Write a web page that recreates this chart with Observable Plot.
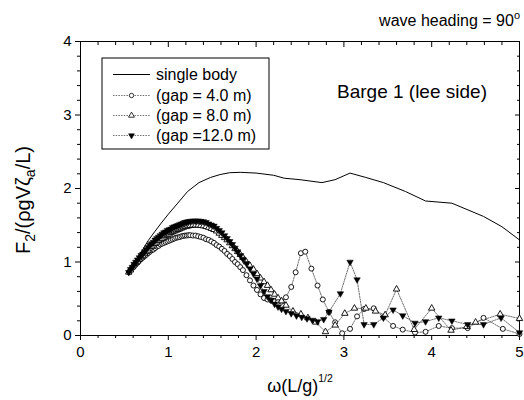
<!DOCTYPE html>
<html><head><meta charset="utf-8">
<script src="https://cdn.jsdelivr.net/npm/d3@7"></script>
<script src="https://cdn.jsdelivr.net/npm/@observablehq/plot@0.6"></script>
<style>body{margin:0;background:#fff} svg{display:block}</style>
</head><body><div id="chart"></div>
<script>
// ---- data ----
const singleOmega = [0.55,0.62,0.70,0.77,0.85,0.92,1.00,1.10,1.22,1.35,1.48,1.59,1.70,1.82,2.00,2.20,2.32,2.50,2.75,2.90,3.07,3.25,3.45,3.70,3.93,4.23,4.59,4.80,5.00];
const singleF     = [0.88,1.01,1.15,1.29,1.42,1.53,1.65,1.79,1.96,2.08,2.15,2.19,2.215,2.22,2.21,2.18,2.14,2.12,2.08,2.12,2.21,2.15,2.08,1.96,1.83,1.80,1.62,1.48,1.30];

const omegaDense = [0.55,0.57,0.59,0.61,0.63,0.65,0.67,0.69,0.71,0.73,0.75,0.77,0.79,0.81,0.83,0.85,0.87,0.89,0.91,0.93,0.95,0.97,0.99,1.01,1.03,1.05,1.07,1.09,1.11,1.13,1.15,1.17,1.19,1.21,1.23,1.25,1.28,1.31,1.34,1.37,1.40,1.43,1.46,1.49,1.52,1.55,1.58,1.61,1.64,1.67,1.70,1.73,1.76,1.79,1.82,1.85,1.89,1.93,1.97,2.01,2.05,2.09,2.13,2.17,2.21,2.25,2.29];

const gap4Dense = [0.86,0.89,0.92,0.94,0.97,0.99,1.02,1.04,1.06,1.08,1.10,1.12,1.14,1.16,1.17,1.19,1.21,1.22,1.24,1.25,1.26,1.27,1.28,1.29,1.30,1.31,1.32,1.33,1.335,1.34,1.35,1.355,1.36,1.36,1.365,1.365,1.36,1.36,1.35,1.34,1.33,1.31,1.30,1.28,1.26,1.23,1.21,1.18,1.15,1.11,1.08,1.04,1.00,0.97,0.93,0.89,0.82,0.75,0.68,0.62,0.56,0.51,0.49,0.48,0.47,0.46,0.46];
const gap8Dense = [0.86,0.89,0.93,0.96,0.99,1.01,1.04,1.07,1.09,1.12,1.14,1.16,1.19,1.21,1.23,1.25,1.27,1.29,1.31,1.32,1.34,1.36,1.37,1.38,1.40,1.41,1.42,1.43,1.44,1.45,1.46,1.47,1.48,1.485,1.49,1.495,1.50,1.50,1.50,1.495,1.49,1.48,1.47,1.455,1.44,1.42,1.39,1.36,1.33,1.30,1.26,1.22,1.18,1.14,1.10,1.06,1.00,0.95,0.90,0.84,0.78,0.73,0.68,0.62,0.56,0.51,0.47];
const gap12Dense = [0.86,0.90,0.93,0.97,1.00,1.03,1.06,1.09,1.11,1.14,1.17,1.20,1.23,1.25,1.27,1.30,1.32,1.34,1.36,1.38,1.40,1.41,1.43,1.44,1.45,1.47,1.48,1.49,1.50,1.51,1.52,1.53,1.54,1.545,1.55,1.555,1.56,1.56,1.56,1.555,1.55,1.54,1.52,1.505,1.49,1.46,1.43,1.40,1.36,1.32,1.28,1.24,1.19,1.14,1.09,1.04,0.98,0.91,0.84,0.77,0.68,0.60,0.53,0.48,0.43,0.39,0.36];

const gap4TailOmega = [2.34,2.40,2.45,2.51,2.56,2.63,2.70,2.76,2.83,2.90,2.98,3.07,3.15,3.23,3.34,3.45,3.56,3.67,3.81,3.93,4.08,4.23,4.41,4.59,4.81,5.00];
const gap4TailF     = [0.52,0.66,0.86,1.12,1.14,0.91,0.68,0.49,0.32,0.18,0.03,0.09,0.26,0.36,0.37,0.25,0.13,0.08,0.04,0.05,0.13,0.10,0.10,0.24,0.09,0.02];
const gap8TailOmega = [2.34,2.42,2.51,2.59,2.68,2.79,2.90,3.01,3.12,3.25,3.36,3.47,3.60,3.80,4.00,4.22,4.40,4.50,4.78,5.00];
const gap8TailF     = [0.41,0.33,0.29,0.24,0.18,0.05,0.14,0.30,0.37,0.37,0.33,0.28,0.63,0.08,0.37,0.07,0.12,0.18,0.29,0.23];
const gap12TailOmega = [2.34,2.40,2.46,2.52,2.58,2.64,2.70,2.77,2.83,2.96,3.07,3.15,3.23,3.34,3.45,3.56,3.67,3.81,3.93,4.08,4.23,4.41,4.59,4.79,5.00];
const gap12TailF     = [0.33,0.30,0.27,0.25,0.23,0.21,0.19,0.22,0.32,0.57,1.00,0.76,0.15,0.15,0.24,0.35,0.27,0.17,0.19,0.24,0.20,0.15,0.15,0.24,0.04];

const xMajor = [0,1,2,3,4,5];
const xMinor = [0.2,0.4,0.6,0.8,1.2,1.4,1.6,1.8,2.2,2.4,2.6,2.8,3.2,3.4,3.6,3.8,4.2,4.4,4.6,4.8];
const yMajor = [0,1,2,3,4];
const yMinor = [0.2,0.4,0.6,0.8,1.2,1.4,1.6,1.8,2.2,2.4,2.6,2.8,3.2,3.4,3.6,3.8];
const seriesLabels = ["single body","(gap = 4.0 m)","(gap = 8.0 m)","(gap =12.0 m)"];

// ---- tables ----
const rows = (xs, ys) => xs.map((x, i) => ({x, y: ys[i]}));
const single = rows(singleOmega, singleF);
const gap4 = rows(omegaDense.concat(gap4TailOmega), gap4Dense.concat(gap4TailF));
const gap8 = rows(omegaDense.concat(gap8TailOmega), gap8Dense.concat(gap8TailF));
const gap12 = rows(omegaDense.concat(gap12TailOmega), gap12Dense.concat(gap12TailF));

const dash = {stroke: "#333", strokeWidth: 0.7, strokeDasharray: "1.5,1.2"};
const fmt = d => String(d);

const chart = Plot.plot({
  width: 524, height: 400,
  marginLeft: 80, marginRight: 5, marginTop: 41, marginBottom: 65,
  x: {domain: [0, 5]},
  y: {domain: [0, 4]},
  style: {fontFamily: "'Liberation Sans', Arial, sans-serif", fontSize: "15px", color: "#000", background: "#fff"},
  marks: [
    Plot.axisX({ticks: xMinor, tickSize: 3, fill: "none", label: null}),
    Plot.axisX({ticks: xMajor, tickSize: 5, tickPadding: 6, tickFormat: fmt, fontSize: 15, label: null}),
    Plot.axisX({anchor: "top", ticks: xMinor, tickSize: 3, dy: 3, fill: "none", label: null}),
    Plot.axisX({anchor: "top", ticks: xMajor, tickSize: 5, dy: 5, fill: "none", label: null}),
    Plot.axisY({ticks: yMinor, tickSize: 3, fill: "none", label: null}),
    Plot.axisY({ticks: yMajor, tickSize: 5, tickPadding: 4, tickFormat: fmt, fontSize: 15, label: null}),
    Plot.axisY({anchor: "right", ticks: yMinor, tickSize: 3, dx: -3, fill: "none", label: null}),
    Plot.axisY({anchor: "right", ticks: yMajor, tickSize: 5, dx: -5, fill: "none", label: null}),
    Plot.frame({stroke: "#000"}),
    Plot.line(single, {x: "x", y: "y", stroke: "#000", strokeWidth: 1}),
    Plot.line(gap4, {x: "x", y: "y", ...dash}),
    Plot.line(gap8, {x: "x", y: "y", ...dash}),
    Plot.line(gap12, {x: "x", y: "y", ...dash}),
    Plot.dot(gap4, {x: "x", y: "y", r: 2.5, fill: "#fff", stroke: "#000", strokeWidth: 0.9}),
    Plot.dot(gap8, {x: "x", y: "y", symbol: "triangle", r: 2.4, fill: "#fff", stroke: "#000", strokeWidth: 0.9}),
    Plot.dot(gap12, {x: "x", y: "y", symbol: "triangle", rotate: 180, r: 2.4, fill: "#000", stroke: "#000", strokeWidth: 0.5})
  ]
});
document.getElementById("chart").appendChild(chart);

// ---- annotations ----
const svg = d3.select(chart);
const font = "'Liberation Sans', Arial, sans-serif";

// y title
const yt = svg.append("text").attr("transform", "translate(30,200) rotate(-90)")
  .attr("text-anchor", "middle").attr("font-family", font).attr("font-size", 20).attr("fill", "#000");
yt.append("tspan").text("F");
yt.append("tspan").attr("font-size", 14).attr("dy", 5).text("2");
yt.append("tspan").attr("dy", -5).text("/(ρgV");
yt.append("tspan").text("ζ");
yt.append("tspan").attr("font-size", 14).attr("dy", 5).text("a");
yt.append("tspan").attr("dy", -5).text("/L)");

// x title
const xt = svg.append("text").attr("x", 300).attr("y", 392).attr("text-anchor", "middle")
  .attr("font-family", font).attr("font-size", 18).attr("fill", "#000");
xt.append("tspan").text("ω(L/g)");
xt.append("tspan").attr("font-size", 10.5).attr("dy", -10).text("1/2");

// top-right note
const tt = svg.append("text").attr("x", 520).attr("y", 26).attr("text-anchor", "end")
  .attr("font-family", font).attr("font-size", 16).attr("fill", "#000");
tt.append("tspan").text("wave heading = 90");
tt.append("tspan").attr("font-size", 11).attr("dy", -7).text("o");

svg.append("text").attr("x", 337).attr("y", 98).attr("text-anchor", "start").attr("font-family", font).attr("font-size", 19)
  .attr("fill", "#000").text("Barge 1 (lee side)");

// legend
const lg = svg.append("g");
lg.append("rect").attr("x", 102).attr("y", 58).attr("width", 167).attr("height", 91)
  .attr("fill", "#fff").attr("stroke", "#000").attr("stroke-width", 1);
const rowY = [74.5, 95.5, 115.5, 135.5];
seriesLabels.forEach((lab, i) => {
  const y = rowY[i];
  const ln = lg.append("line").attr("x1", 113).attr("x2", 150).attr("y1", y).attr("y2", y);
  if (i === 0) ln.attr("stroke", "#000").attr("stroke-width", 1);
  else ln.attr("stroke", "#333").attr("stroke-width", 0.7).attr("stroke-dasharray", "1.5,1.2");
  if (i === 1) lg.append("circle").attr("cx", 131.5).attr("cy", y).attr("r", 2.2).attr("fill", "#fff").attr("stroke", "#000").attr("stroke-width", 0.8);
  if (i === 2) lg.append("path").attr("d", d3.symbol(d3.symbolTriangle, Math.PI * 2.2 * 2.2)()).attr("transform", `translate(131.5,${y})`).attr("fill", "#fff").attr("stroke", "#000").attr("stroke-width", 0.8);
  if (i === 3) lg.append("path").attr("d", d3.symbol(d3.symbolTriangle, Math.PI * 2.2 * 2.2)()).attr("transform", `translate(131.5,${y}) rotate(180)`).attr("fill", "#000").attr("stroke", "#000").attr("stroke-width", 0.5);
  lg.append("text").attr("x", 156).attr("y", y + 5.5).attr("text-anchor", "start").attr("font-family", font).attr("font-size", 16).attr("fill", "#000").text(lab);
});
</script>
</body></html>
